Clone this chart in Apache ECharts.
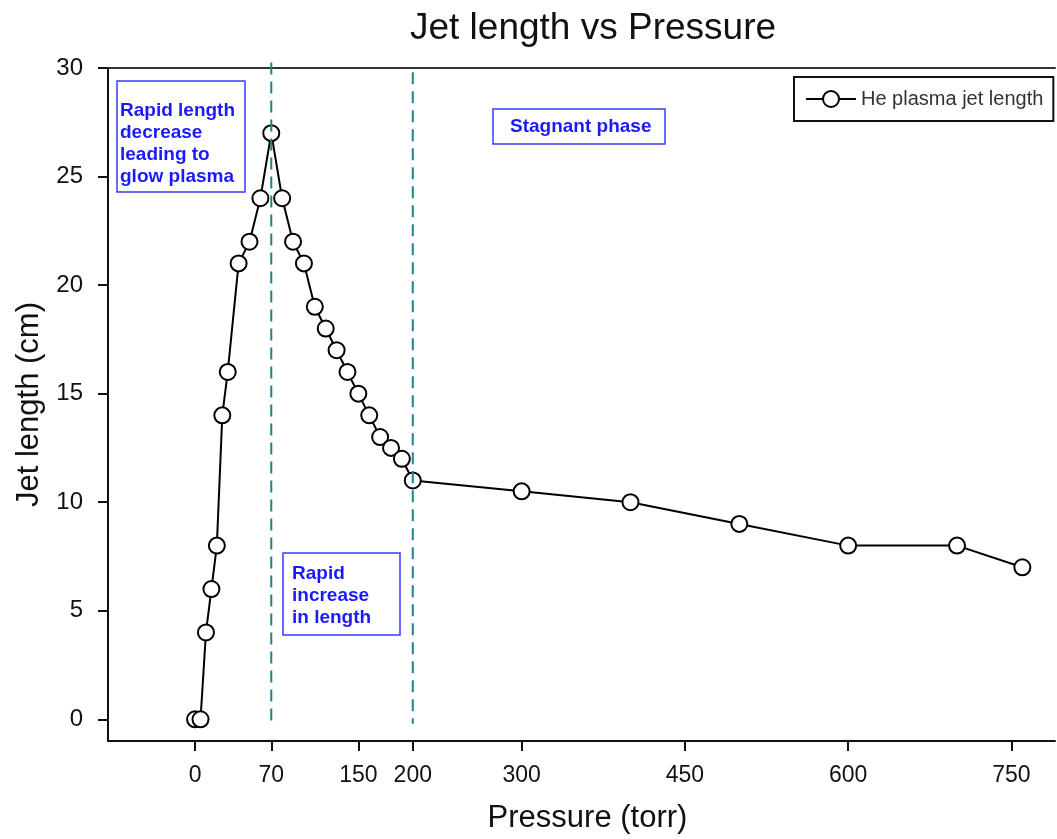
<!DOCTYPE html>
<html>
<head>
<meta charset="utf-8">
<title>Jet length vs Pressure</title>
<script src="https://cdn.jsdelivr.net/npm/echarts@6/dist/echarts.min.js"></script>
<style>
  html, body { margin: 0; padding: 0; background: #fff; }
  #main { width: 1057px; height: 839px; }
</style>
</head>
<body>
<div id="main"></div>
<script>
// pressure (torr) and jet length (cm)
var pressure = [0, 5, 10, 15, 20, 25, 30, 40, 50, 60, 70, 80, 90, 100, 110, 120, 130, 140, 150, 160, 170, 180, 190, 200, 300, 400, 500, 600, 700, 760];
var jetLength = [0, 0, 4, 6, 8, 14, 16, 21, 22, 24, 27, 24, 22, 21, 19, 18, 17, 16, 15, 14, 13, 12.5, 12, 11, 10.5, 10, 9, 8, 8, 7];

var xTicks = [0, 70, 150, 200, 300, 450, 600, 750];
var yTicks = [0, 5, 10, 15, 20, 25, 30];

// phase boundaries (dashed lines): [x, yTop, yBottom]
var boundary1 = [70, 30.25, -0.3];
var boundary2 = [200, 29.8, -0.2];

var font = '"Liberation Sans", Arial, sans-serif';
var blue = '#1a1aff';

var pts = [];
for (var i = 0; i < pressure.length; i++) {
  pts.push([pressure[i], jetLength[i]]);
}

function vline(b) {
  return {
    type: 'line',
    data: [[b[0], b[1]], [b[0], b[2]]],
    symbol: 'none',
    clip: false,
    silent: true,
    z: 5,
    lineStyle: { color: '#1a8585', width: 2, type: [12, 7] }
  };
}

var chart = echarts.init(document.getElementById('main'));
chart.setOption({
  animation: false,
  backgroundColor: '#fff',
  title: {
    text: 'Jet length vs Pressure',
    left: 588,
    textAlign: 'center',
    top: 5,
    textStyle: { fontFamily: font, fontSize: 37, fontWeight: 'normal', color: '#111' }
  },
  legend: {
    data: ['He plasma jet length'],
    left: 794,
    top: 77,
    padding: [12, 10, 12, 11],
    itemWidth: 50,
    itemHeight: 20,
    borderColor: '#111',
    borderWidth: 2,
    textStyle: { fontFamily: font, fontSize: 20, color: '#333' }
  },
  grid: { left: 108, right: 2, top: 68, bottom: 98 },
  xAxis: [{
    type: 'value',
    min: -80,
    max: 790,
    name: 'Pressure (torr)',
    nameLocation: 'middle',
    nameGap: 62,
    nameTextStyle: { fontFamily: font, fontSize: 31, color: '#111', padding: [0, 0, 0, 12] },
    axisLine: { onZero: false, lineStyle: { color: '#111', width: 2 } },
    axisTick: { customValues: xTicks, length: 10, lineStyle: { color: '#111', width: 2 } },
    axisLabel: { customValues: xTicks, margin: 23, fontFamily: font, fontSize: 23, color: '#111' },
    splitLine: { show: false }
  }, {
    type: 'value',
    position: 'top',
    min: -80,
    max: 790,
    axisLine: { onZero: false, lineStyle: { color: '#333', width: 2 } },
    axisTick: { show: false },
    axisLabel: { show: false },
    splitLine: { show: false }
  }],
  yAxis: {
    type: 'value',
    min: -1,
    max: 30,
    name: 'Jet length (cm)',
    nameLocation: 'middle',
    nameGap: 59,
    nameTextStyle: { fontFamily: font, fontSize: 31, color: '#111' },
    axisLine: { onZero: false, lineStyle: { color: '#111', width: 2 } },
    axisTick: { customValues: yTicks, length: 10, lineStyle: { color: '#111', width: 2 } },
    axisLabel: { customValues: yTicks, margin: 25, fontFamily: font, fontSize: 24, color: '#111' },
    splitLine: { show: false }
  },
  series: [{
    name: 'He plasma jet length',
    type: 'line',
    data: pts,
    symbol: 'circle',
    symbolSize: 16,
    z: 3,
    lineStyle: { color: '#000', width: 2 },
    itemStyle: { color: '#fff', borderColor: '#000', borderWidth: 2 }
  }, vline(boundary1), vline(boundary2)],
  graphic: [
    { type: 'rect', shape: { x: 117, y: 81, width: 128, height: 111 },
      style: { fill: '#fff', stroke: '#3a3aff', lineWidth: 1.5 } },
    { type: 'text', left: 120, top: 100,
      style: { text: 'Rapid length\ndecrease\nleading to\nglow plasma', fill: blue,
        font: 'bold 19px ' + font, lineHeight: 22 } },
    { type: 'rect', shape: { x: 283, y: 553, width: 117, height: 82 },
      style: { fill: '#fff', stroke: '#3a3aff', lineWidth: 1.5 } },
    { type: 'text', left: 292, top: 563,
      style: { text: 'Rapid\nincrease\nin length', fill: blue,
        font: 'bold 19px ' + font, lineHeight: 22 } },
    { type: 'rect', shape: { x: 493, y: 109, width: 172, height: 35 },
      style: { fill: '#fff', stroke: '#3a3aff', lineWidth: 1.5 } },
    { type: 'text', left: 510, top: 117,
      style: { text: 'Stagnant phase', fill: blue, font: 'bold 19px ' + font } }
  ]
});
</script>
</body>
</html>
